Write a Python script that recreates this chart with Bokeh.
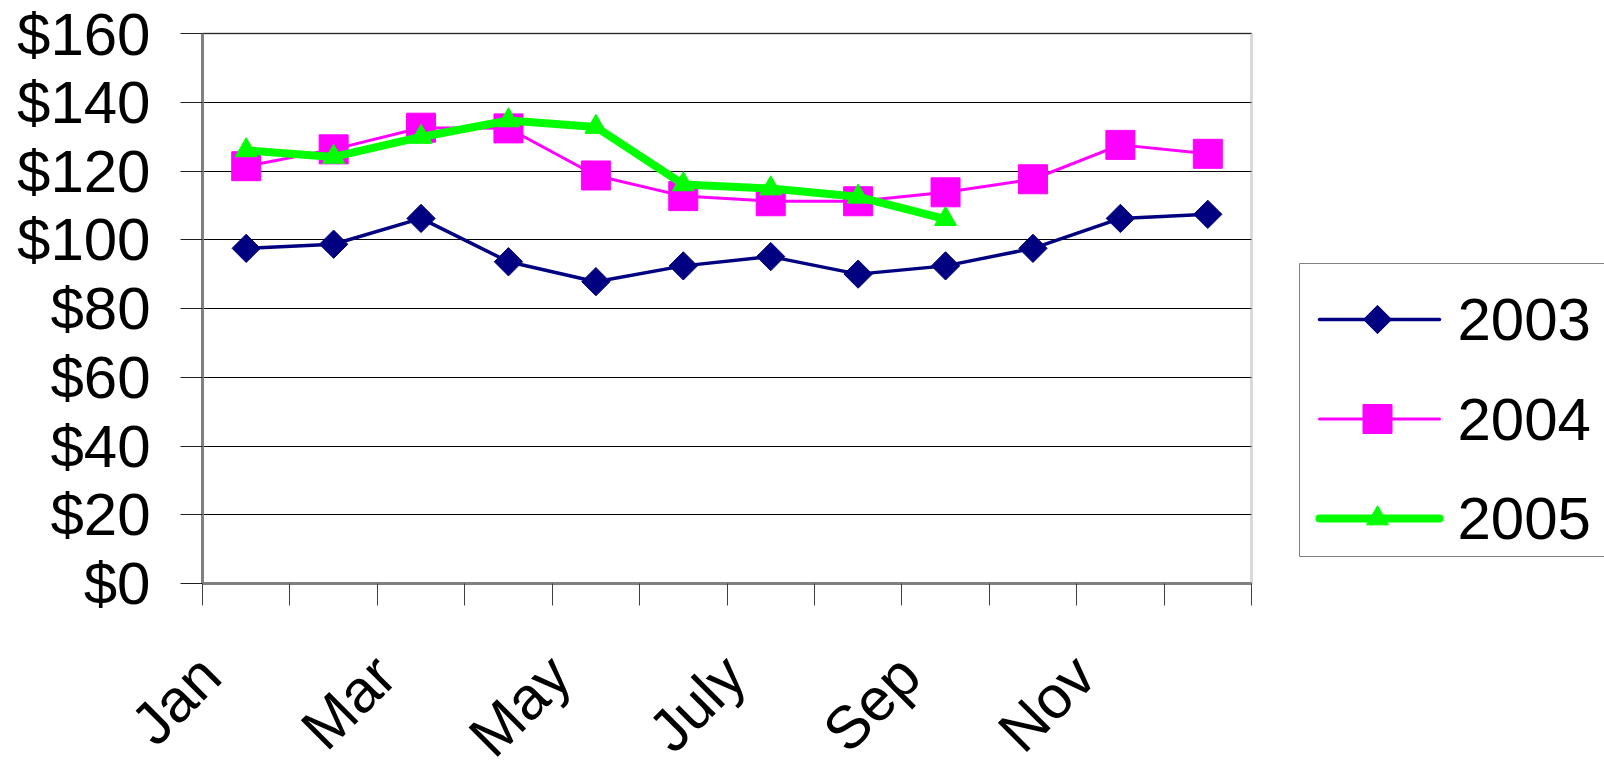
import math
from bokeh.plotting import figure
from bokeh.models import (FixedTicker, NumeralTickFormatter, LinearAxis, Range1d,
                          BoxAnnotation, Grid)
from bokeh.embed import file_html
from bokeh.resources import INLINE
from bokeh.core.properties import value

# ---------------- data ----------------
months = ["Jan", "Feb", "Mar", "Apr", "May", "Jun", "July", "Aug", "Sep", "Oct", "Nov", "Dec"]
label_months = ["Jan", "Mar", "May", "July", "Sep", "Nov"]
series_names = ["2003", "2004", "2005"]
y2003 = [97.5, 98.7, 106.2, 93.6, 87.8, 92.4, 95.1, 90.0, 92.4, 97.5, 106.2, 107.4]
y2004 = [121.4, 126.3, 132.6, 132.4, 118.7, 112.7, 111.2, 111.2, 113.8, 117.6, 127.6, 125.0]
y2005 = [126.0, 124.1, 129.9, 134.7, 132.8, 116.1, 114.9, 112.5, 106.0]
y_ticks = [0, 20, 40, 60, 80, 100, 120, 140, 160]

# ---------------- style / layout ----------------
FONT = "Liberation Sans"
FS = "60px"
NAVY = "#000080"
MAGENTA = "#FF00FF"
GREEN = "#00FF00"
GRAY = "#808080"

W, H = 1604, 768
PLOT_L, PLOT_R, PLOT_T, PLOT_B = 202, 1251, 33, 583   # plot area in page pixels
FRAME_W = PLOT_R - PLOT_L
FRAME_H = PLOT_B - PLOT_T
N = len(months)
Y_MAX = 160
UX = N / FRAME_W
UY = Y_MAX / FRAME_H

xs = [i + 0.5 for i in range(N)]

p = figure(width=W, height=H,
           x_range=Range1d(-PLOT_L * UX, N + (W - PLOT_R) * UX),
           y_range=Range1d(-(H - PLOT_B) * UY, Y_MAX + PLOT_T * UY),
           x_axis_type=None, y_axis_type=None,
           output_backend="svg", toolbar_location=None, min_border=0)
p.extra_x_ranges = {"px": Range1d(0, W)}
p.extra_y_ranges = {"px": Range1d(H, 0)}
p.background_fill_color = "white"
p.border_fill_color = "white"
p.outline_line_color = None
p.grid.visible = False

# horizontal gridlines (only across the plot area)
p.add_layout(Grid(dimension=1, ticker=FixedTicker(ticks=y_ticks), cross_bounds=(0, N),
                  grid_line_color="black", grid_line_width=1))

# plot-area border
p.add_layout(BoxAnnotation(left=0, right=N, bottom=0, top=Y_MAX, fill_color=None,
                           line_color=GRAY, line_width=3, level="underlay"))

# x axis: category boundary ticks
xax = LinearAxis(fixed_location=0, bounds=(0, N),
                 ticker=FixedTicker(ticks=[], minor_ticks=list(range(N + 1))))
xax.minor_tick_out = 22
xax.minor_tick_in = 0
xax.minor_tick_line_color = "#404040"
xax.minor_tick_line_width = 1
xax.major_tick_line_color = None
xax.axis_line_color = GRAY
xax.axis_line_width = 3
p.add_layout(xax, "below")

# rotated month labels (every other category)
LABEL_DX_PX = 36
LABEL_DY_PX = 82
label_idx = [months.index(m) for m in label_months]
label_x = [xs[i] - LABEL_DX_PX * UX for i in label_idx]
lab_axis = LinearAxis(fixed_location=0,
                      ticker=FixedTicker(ticks=label_x, minor_ticks=[]),
                      major_label_overrides={x: m for x, m in zip(label_x, label_months)})
lab_axis.axis_line_color = None
lab_axis.major_tick_line_color = None
lab_axis.minor_tick_line_color = None
lab_axis.major_tick_out = 0
lab_axis.major_tick_in = 0
lab_axis.major_label_orientation = math.pi / 4
lab_axis.major_label_standoff = LABEL_DY_PX
lab_axis.major_label_text_font = FONT
lab_axis.major_label_text_font_size = FS
lab_axis.major_label_text_color = "black"
p.add_layout(lab_axis, "below")

# y axis
yax = LinearAxis(fixed_location=0, bounds=(0, Y_MAX),
                 ticker=FixedTicker(ticks=y_ticks, minor_ticks=[]),
                 formatter=NumeralTickFormatter(format="$0"))
yax.major_tick_out = 22
yax.major_tick_in = 0
yax.major_tick_line_color = "#202020"
yax.major_tick_line_width = 1
yax.minor_tick_line_color = None
yax.axis_line_color = GRAY
yax.axis_line_width = 3
yax.major_label_text_font = FONT
yax.major_label_text_font_size = FS
yax.major_label_text_color = "black"
yax.major_label_standoff = 30
p.add_layout(yax, "left")

# series
p.line(xs, y2003, line_color=NAVY, line_width=3.5, line_join="round")
p.scatter(xs, y2003, marker="square", angle=math.pi / 4, size=20,
          fill_color=NAVY, line_color=NAVY)
p.line(xs, y2004, line_color=MAGENTA, line_width=3, line_join="round")
p.scatter(xs, y2004, marker="square", size=29, fill_color=MAGENTA, line_color=MAGENTA)
p.line(xs[:len(y2005)], y2005, line_color=GREEN, line_width=8, line_join="round")
p.scatter(xs[:len(y2005)], y2005, marker="triangle", size=22,
          fill_color=GREEN, line_color=GREEN)

# ---------------- legend (page-pixel coordinates) ----------------
BOX_L, BOX_T, BOX_B = 1299, 263, 556
p.quad(left=[BOX_L], right=[W + 50], top=[BOX_T], bottom=[BOX_B],
       fill_color=None, line_color=GRAY, line_width=1,
       x_range_name="px", y_range_name="px")

ROW_Y0, ROW_DY = 319, 99.5
LINE_X0, LINE_X1, MARK_X, TEXT_X = 1319, 1439, 1377, 1457
rows_y = [ROW_Y0 + i * ROW_DY for i in range(len(series_names))]
colors = [NAVY, MAGENTA, GREEN]
widths = [3.5, 3, 8]
markers = ["square", "square", "triangle"]
angles = [math.pi / 4, 0, 0]
sizes = [20, 29, 22]
for i in range(len(series_names)):
    p.segment(x0=[LINE_X0], x1=[LINE_X1], y0=[rows_y[i]], y1=[rows_y[i]],
              line_color=colors[i], line_width=widths[i], line_cap="round",
              x_range_name="px", y_range_name="px")
    p.scatter(x=[MARK_X], y=[rows_y[i]], marker=markers[i], angle=angles[i],
              size=sizes[i], fill_color=colors[i], line_color=colors[i],
              x_range_name="px", y_range_name="px")
p.text(x=[TEXT_X] * len(series_names), y=rows_y, text=series_names,
       text_font=value(FONT), text_font_size=FS, text_color="black",
       text_align="left", text_baseline="middle",
       x_range_name="px", y_range_name="px")

open("out.html", "w").write(file_html(p, INLINE))
